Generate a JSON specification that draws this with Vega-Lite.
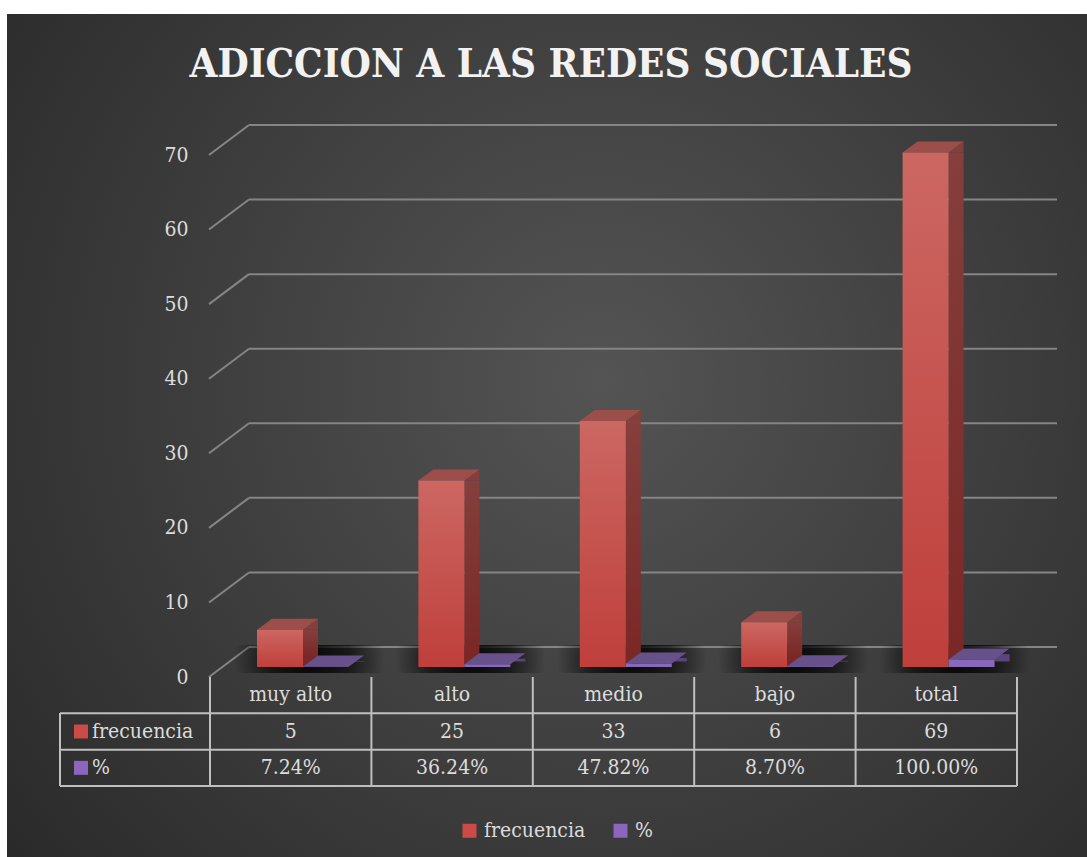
{
  "$schema": "https://vega.github.io/schema/vega-lite/v6.json",
  "width": 1080,
  "height": 843,
  "autosize": {"type": "none"},
  "padding": {"left": 7, "top": 14, "right": 0, "bottom": 0},
  "background": "#ffffff",
  "title": {
    "text": "ADICCION A LAS REDES SOCIALES",
    "anchor": "middle",
    "frame": "group",
    "offset": -103,
    "baseline": "alphabetic",
    "fontSize": 40,
    "font": "DejaVu Serif Condensed",
    "fontWeight": "bold",
    "color": "#f2f2f2",
    "dx": 4
  },
  "config": {
    "view": {
      "stroke": null,
      "fill": {"gradient": "radial", "x1": 0.55, "y1": 0.45, "x2": 0.55, "y2": 0.45, "r1": 0, "r2": 0.72,
        "stops": [{"offset": 0, "color": "#545454"}, {"offset": 1, "color": "#292929"}]}
    },
    "font": "DejaVu Serif Condensed",
    "text": {"font": "DejaVu Serif Condensed", "fontSize": 21, "color": "#dcdcdc"},
    "legend": {"labelFont": "DejaVu Serif Condensed"},
    "axis": {"labelFont": "DejaVu Serif Condensed"}
  },
  "data": {
    "values": [
      {"cat": "muy alto", "frecuencia": 5, "pct": 0.0724},
      {"cat": "alto", "frecuencia": 25, "pct": 0.3624},
      {"cat": "medio", "frecuencia": 33, "pct": 0.4782},
      {"cat": "bajo", "frecuencia": 6, "pct": 0.087},
      {"cat": "total", "frecuencia": 69, "pct": 1.0}
    ]
  },
  "layer": [
    {
      "layer": [
        {
          "data": {"values": [{"v": 0}, {"v": 10}, {"v": 20}, {"v": 30}, {"v": 40}, {"v": 50}, {"v": 60}, {"v": 70}]},
          "mark": {"type": "rule", "color": "#858585", "strokeWidth": 2, "xOffset": 39, "x2Offset": 40, "yOffset": -20},
          "encoding": {
            "x": {"datum": "muy alto", "type": "nominal", "bandPosition": 0, "axis": null,
              "scale": {"type": "band", "domain": ["muy alto", "alto", "medio", "bajo", "total"], "range": [203, 1010], "paddingInner": 0, "paddingOuter": 0}},
            "x2": {"datum": "total", "bandPosition": 1},
            "y": {"field": "v", "type": "quantitative",
              "scale": {"type": "linear", "domain": [0, 70], "range": [653, 131], "nice": false, "zero": false},
              "axis": {"values": [0, 10, 20, 30, 40, 50, 60, 70], "grid": false, "domain": false, "ticks": false, "tickSize": 0,
                "labelPadding": 0, "offset": -181, "labelOffset": 10, "labelFontSize": 21, "labelColor": "#dcdcdc",
                "labelFont": "DejaVu Serif Condensed", "title": null}}
          }
        },
        {
          "data": {"values": [{"v": 0}, {"v": 10}, {"v": 20}, {"v": 30}, {"v": 40}, {"v": 50}, {"v": 60}, {"v": 70}]},
          "mark": {"type": "rule", "color": "#858585", "strokeWidth": 2, "xOffset": -1, "x2Offset": 39, "yOffset": 10, "y2Offset": -20},
          "encoding": {
            "x": {"datum": "muy alto", "type": "nominal", "bandPosition": 0, "axis": null},
            "x2": {"datum": "muy alto", "bandPosition": 0},
            "y": {"field": "v", "type": "quantitative",
              "axis": {"values": [0, 10, 20, 30, 40, 50, 60, 70], "grid": false, "domain": false, "ticks": false, "tickSize": 0,
                "labelPadding": 0, "offset": -181, "labelOffset": 10, "labelFontSize": 21, "labelColor": "#dcdcdc",
                "labelFont": "DejaVu Serif Condensed", "title": null}},
            "y2": {"field": "v"}
          }
        },
        {
          "mark": {"type": "bar", "width": 150, "xOffset": 18.3, "yOffset": -22, "y2Offset": 6,
            "fill": {"gradient": "radial", "x1": 0.5, "y1": 0.5, "x2": 0.5, "y2": 0.5, "r1": 0, "r2": 0.5,
              "stops": [{"offset": 0, "color": "rgba(0,0,0,0.9)"}, {"offset": 0.55, "color": "rgba(0,0,0,0.6)"}, {"offset": 1, "color": "rgba(0,0,0,0)"}]}},
          "encoding": {
            "x": {"field": "cat", "type": "nominal", "axis": null},
            "y": {"datum": 0, "type": "quantitative",
              "axis": {"values": [0, 10, 20, 30, 40, 50, 60, 70], "grid": false, "domain": false, "ticks": false, "tickSize": 0,
                "labelPadding": 0, "offset": -181, "labelOffset": 10, "labelFontSize": 21, "labelColor": "#dcdcdc",
                "labelFont": "DejaVu Serif Condensed", "title": null}},
            "y2": {"datum": 0}
          }
        },
        {
          "mark": {"type": "bar", "width": 15, "xOffset": 19.8, "y2Offset": -11,
            "fill": {"gradient": "linear", "x1": 0, "y1": 0, "x2": 0, "y2": 1,
              "stops": [{"offset": 0, "color": "#853f3c"}, {"offset": 1, "color": "#7a2826"}]}},
          "encoding": {
            "x": {"field": "cat", "type": "nominal", "axis": null},
            "y": {"field": "frecuencia", "type": "quantitative",
              "axis": {"values": [0, 10, 20, 30, 40, 50, 60, 70], "grid": false, "domain": false, "ticks": false, "tickSize": 0,
                "labelPadding": 0, "offset": -181, "labelOffset": 10, "labelFontSize": 21, "labelColor": "#dcdcdc",
                "labelFont": "DejaVu Serif Condensed", "title": null}},
            "y2": {"datum": 0}
          }
        },
        {
          "mark": {"type": "point", "shape": "M12.3,0L27.3,-11L27.3,0Z", "size": 4, "filled": true, "opacity": 1, "strokeWidth": 0, "fill": "#843e3b"},
          "encoding": {
            "x": {"field": "cat", "type": "nominal", "axis": null},
            "y": {"field": "frecuencia", "type": "quantitative",
              "axis": {"values": [0, 10, 20, 30, 40, 50, 60, 70], "grid": false, "domain": false, "ticks": false, "tickSize": 0,
                "labelPadding": 0, "offset": -181, "labelOffset": 10, "labelFontSize": 21, "labelColor": "#dcdcdc",
                "labelFont": "DejaVu Serif Condensed", "title": null}}
          }
        },
        {
          "mark": {"type": "point", "shape": "M12.3,-11L12.3,0L27.3,-11Z", "size": 4, "filled": true, "opacity": 1, "strokeWidth": 0, "fill": "#7a2826"},
          "encoding": {
            "x": {"field": "cat", "type": "nominal", "axis": null},
            "y": {"datum": 0, "type": "quantitative",
              "axis": {"values": [0, 10, 20, 30, 40, 50, 60, 70], "grid": false, "domain": false, "ticks": false, "tickSize": 0,
                "labelPadding": 0, "offset": -181, "labelOffset": 10, "labelFontSize": 21, "labelColor": "#dcdcdc",
                "labelFont": "DejaVu Serif Condensed", "title": null}}
          }
        },
        {
          "mark": {"type": "point", "shape": "M-33.7,0L12.3,0L27.3,-11L-18.7,-11Z", "size": 4, "filled": true, "opacity": 1, "strokeWidth": 0, "fill": "#9c4f4a"},
          "encoding": {
            "x": {"field": "cat", "type": "nominal", "axis": null},
            "y": {"field": "frecuencia", "type": "quantitative",
              "axis": {"values": [0, 10, 20, 30, 40, 50, 60, 70], "grid": false, "domain": false, "ticks": false, "tickSize": 0,
                "labelPadding": 0, "offset": -181, "labelOffset": 10, "labelFontSize": 21, "labelColor": "#dcdcdc",
                "labelFont": "DejaVu Serif Condensed", "title": null}}
          }
        },
        {
          "mark": {"type": "bar", "width": 46, "xOffset": -10.7,
            "fill": {"gradient": "linear", "x1": 0, "y1": 0, "x2": 0, "y2": 1,
              "stops": [{"offset": 0, "color": "#cc6762"}, {"offset": 1, "color": "#bf3f3b"}]}},
          "encoding": {
            "x": {"field": "cat", "type": "nominal", "axis": null},
            "y": {"field": "frecuencia", "type": "quantitative",
              "axis": {"values": [0, 10, 20, 30, 40, 50, 60, 70], "grid": false, "domain": false, "ticks": false, "tickSize": 0,
                "labelPadding": 0, "offset": -181, "labelOffset": 10, "labelFontSize": 21, "labelColor": "#dcdcdc",
                "labelFont": "DejaVu Serif Condensed", "title": null}},
            "y2": {"datum": 0}
          }
        },
        {
          "mark": {"type": "bar", "width": 15, "xOffset": 65.8, "yOffset": -5.5, "y2Offset": -5.5, "fill": "#5b447a"},
          "encoding": {
            "x": {"field": "cat", "type": "nominal", "axis": null},
            "y": {"field": "pct", "type": "quantitative",
              "axis": {"values": [0, 10, 20, 30, 40, 50, 60, 70], "grid": false, "domain": false, "ticks": false, "tickSize": 0,
                "labelPadding": 0, "offset": -181, "labelOffset": 10, "labelFontSize": 21, "labelColor": "#dcdcdc",
                "labelFont": "DejaVu Serif Condensed", "title": null}},
            "y2": {"datum": 0}
          }
        },
        {
          "mark": {"type": "point", "shape": "M12.3,0L58.3,0L73.3,-11L27.3,-11Z", "size": 4, "filled": true, "opacity": 1, "strokeWidth": 0, "fill": "#67518b"},
          "encoding": {
            "x": {"field": "cat", "type": "nominal", "axis": null},
            "y": {"field": "pct", "type": "quantitative",
              "axis": {"values": [0, 10, 20, 30, 40, 50, 60, 70], "grid": false, "domain": false, "ticks": false, "tickSize": 0,
                "labelPadding": 0, "offset": -181, "labelOffset": 10, "labelFontSize": 21, "labelColor": "#dcdcdc",
                "labelFont": "DejaVu Serif Condensed", "title": null}}
          }
        },
        {
          "mark": {"type": "bar", "width": 46, "xOffset": 35.3, "fill": "#8768ba"},
          "encoding": {
            "x": {"field": "cat", "type": "nominal", "axis": null},
            "y": {"field": "pct", "type": "quantitative",
              "axis": {"values": [0, 10, 20, 30, 40, 50, 60, 70], "grid": false, "domain": false, "ticks": false, "tickSize": 0,
                "labelPadding": 0, "offset": -181, "labelOffset": 10, "labelFontSize": 21, "labelColor": "#dcdcdc",
                "labelFont": "DejaVu Serif Condensed", "title": null}},
            "y2": {"datum": 0}
          }
        }
      ]
    },
    {
      "layer": [
        {
          "data": {"values": [{"r": "frecuencia"}, {"r": "%"}]},
          "mark": {"type": "rule", "color": "#bfbfbf", "strokeWidth": 2, "xOffset": -150},
          "encoding": {
            "x": {"datum": "muy alto", "type": "nominal", "bandPosition": 0, "axis": null},
            "x2": {"datum": "total", "bandPosition": 1},
            "y": {"field": "r", "type": "nominal", "bandPosition": 0, "axis": null,
              "scale": {"type": "band", "domain": ["cat", "frecuencia", "%"], "range": [663, 772], "paddingInner": 0, "paddingOuter": 0}}
          }
        },
        {
          "mark": {"type": "rule", "color": "#bfbfbf", "strokeWidth": 2, "xOffset": -150},
          "encoding": {
            "x": {"datum": "muy alto", "type": "nominal", "bandPosition": 0, "axis": null},
            "x2": {"datum": "total", "bandPosition": 1},
            "y": {"datum": "%", "type": "nominal", "bandPosition": 1, "axis": null}
          }
        },
        {
          "mark": {"type": "rule", "color": "#bfbfbf", "strokeWidth": 2},
          "encoding": {
            "x": {"field": "cat", "type": "nominal", "bandPosition": 0, "axis": null},
            "y": {"datum": "cat", "type": "nominal", "bandPosition": 0, "axis": null},
            "y2": {"datum": "%", "bandPosition": 1}
          }
        },
        {
          "mark": {"type": "rule", "color": "#bfbfbf", "strokeWidth": 2},
          "encoding": {
            "x": {"datum": "total", "type": "nominal", "bandPosition": 1, "axis": null},
            "y": {"datum": "cat", "type": "nominal", "bandPosition": 0, "axis": null},
            "y2": {"datum": "%", "bandPosition": 1}
          }
        },
        {
          "mark": {"type": "rule", "color": "#bfbfbf", "strokeWidth": 2, "xOffset": -150},
          "encoding": {
            "x": {"datum": "muy alto", "type": "nominal", "bandPosition": 0, "axis": null},
            "y": {"datum": "frecuencia", "type": "nominal", "bandPosition": 0, "axis": null},
            "y2": {"datum": "%", "bandPosition": 1}
          }
        },
        {
          "mark": {"type": "text", "baseline": "middle"},
          "encoding": {
            "x": {"field": "cat", "type": "nominal", "axis": null},
            "y": {"datum": "cat", "type": "nominal", "axis": null},
            "text": {"field": "cat"}
          }
        },
        {
          "mark": {"type": "text", "baseline": "middle"},
          "encoding": {
            "x": {"field": "cat", "type": "nominal", "axis": null},
            "y": {"datum": "frecuencia", "type": "nominal", "axis": null},
            "text": {"field": "frecuencia", "type": "quantitative"}
          }
        },
        {
          "mark": {"type": "text", "baseline": "middle"},
          "encoding": {
            "x": {"field": "cat", "type": "nominal", "axis": null},
            "y": {"datum": "%", "type": "nominal", "axis": null},
            "text": {"field": "pct", "type": "quantitative", "format": ".2%"}
          }
        },
        {
          "data": {"values": [{"series": "frecuencia"}, {"series": "%"}]},
          "mark": {"type": "point", "shape": "square", "size": 196, "filled": true, "opacity": 1, "strokeWidth": 0, "xOffset": -209.7},
          "encoding": {
            "x": {"datum": "muy alto", "type": "nominal", "axis": null},
            "y": {"field": "series", "type": "nominal", "axis": null},
            "color": {"field": "series", "type": "nominal",
              "scale": {"domain": ["frecuencia", "%"], "range": ["#cc4b48", "#8a67bc"]},
              "legend": {"orient": "none", "legendX": 452, "legendY": 806, "direction": "horizontal", "title": null,
                "symbolType": "square", "symbolSize": 196, "symbolStrokeWidth": 0, "symbolOpacity": 1,
                "labelFontSize": 21, "labelColor": "#dcdcdc", "labelFont": "DejaVu Serif Condensed",
                "columnPadding": 24, "labelOffset": 4}}
          }
        },
        {
          "data": {"values": [{"series": "frecuencia"}, {"series": "%"}]},
          "mark": {"type": "text", "align": "left", "baseline": "middle", "xOffset": -198.7},
          "encoding": {
            "x": {"datum": "muy alto", "type": "nominal", "axis": null},
            "y": {"field": "series", "type": "nominal", "axis": null},
            "text": {"field": "series"}
          }
        }
      ]
    }
  ],
  "resolve": {"scale": {"y": "independent"}, "axis": {"y": "independent"}}
}
